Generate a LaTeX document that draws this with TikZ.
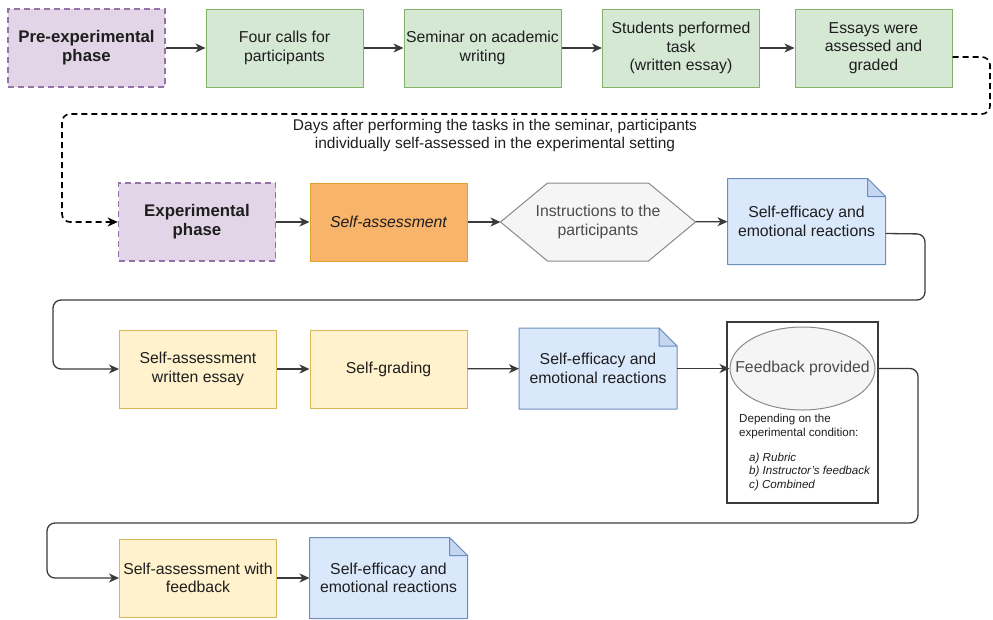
\documentclass[tikz,border=0pt]{standalone}
\usepackage{fontspec}
\setmainfont{Liberation Sans}
\usetikzlibrary{arrows.meta,backgrounds,shapes.geometric}
\definecolor{purplefill}{HTML}{E1D5E7}
\definecolor{purpleline}{HTML}{9673A6}
\definecolor{greenfill}{HTML}{D5E8D4}
\definecolor{greenline}{HTML}{82B366}
\definecolor{orangefill}{HTML}{F9B46C}
\definecolor{orangeline}{HTML}{E0A030}
\definecolor{yellowfill}{HTML}{FFF2CC}
\definecolor{yellowline}{HTML}{D6B656}
\definecolor{bluefill}{HTML}{DAE8FC}
\definecolor{blueline}{HTML}{6C8EBF}
\definecolor{bluefold}{HTML}{C4D6F0}
\definecolor{grayfill}{HTML}{F5F5F5}
\definecolor{grayline}{HTML}{8A8A8A}
\definecolor{txt}{HTML}{1E1E1E}
\definecolor{linecol}{HTML}{3A3A3A}
\tikzset{
  box/.style={rectangle, minimum width=157pt, minimum height=78pt, align=center,
    inner sep=0.5pt, line width=1pt, text=txt, font=\fontsize{15.8}{18.5}\selectfont},
  phase/.style={box, draw=purpleline, fill=purplefill, dash pattern=on 6pt off 4pt,
    line width=1.6pt, font=\fontsize{16.8}{19}\selectfont\bfseries},
  stage/.style={box, draw=greenline, fill=greenfill},
  selfbox/.style={box, draw=orangeline, fill=orangefill, font=\fontsize{15.8}{18.5}\selectfont\itshape},
  taskbox/.style={box, draw=yellowline, fill=yellowfill},
  docnode/.style={box, minimum height=80pt},
  hexnode/.style={box, minimum width=194pt, minimum height=77pt, text=txt!80},
  docedge/.style={draw=blueline, fill=bluefill, line width=1pt, line join=round},
  hexedge/.style={draw=grayline, fill=grayfill, line width=1pt},
  conn/.style={draw=linecol, line width=1.3pt, rounded corners=8pt,
    -{Stealth[length=10pt,width=9pt,inset=3pt]}},
  dashconn/.style={conn, draw=black, line width=1.6pt, dash pattern=on 6pt off 4pt}
}
\newcommand{\foldeddoc}[2]{%
  \filldraw[docedge] (#1.south west) -- (#1.south east) -- ([yshift=-#2]#1.north east)
    -- ([xshift=-#2]#1.north east) -- (#1.north west) -- cycle;
  \filldraw[docedge, fill=bluefold] ([xshift=-#2]#1.north east)
    -- ([xshift=-#2,yshift=-#2]#1.north east) -- ([yshift=-#2]#1.north east) -- cycle;}
\newcommand{\hexback}[2]{%
  \filldraw[hexedge] (#1.west) -- ([xshift=#2]#1.north west) -- ([xshift=-#2]#1.north east)
    -- (#1.east) -- ([xshift=-#2]#1.south east) -- ([xshift=#2]#1.south west) -- cycle;}
\begin{document}
\begin{tikzpicture}[x=1pt, y=-1pt]
  \useasboundingbox (0,0) rectangle (993,619);
  \node[phase] (pre) at (86.5,48) {Pre-experimental\\phase};
  \node[stage] (calls) at (284.5,48) {Four calls for\\participants};
  \node[stage] (seminar) at (482.5,48) {Seminar on academic\\writing};
  \node[stage] (task) at (681,48) {Students performed\\task\\(written essay)};
  \node[stage] (graded) at (873.5,48) {Essays were\\assessed and\\graded};
  \node[phase] (exper) at (197,222) {Experimental\\phase};
  \node[selfbox] (selfass) at (388.5,222) {Self-assessment};
  \node[hexnode] (instr) at (598,222) {Instructions to the\\participants};
  \node[docnode, minimum height=85pt] (effa) at (806.5,221.5) {Self-efficacy and\\emotional reactions};
  \node[taskbox] (essay) at (198,369) {Self-assessment\\written essay};
  \node[taskbox] (grading) at (388.5,369) {Self-grading};
  \node[docnode] (effb) at (598,368.5) {Self-efficacy and\\emotional reactions};
  \node[draw=linecol, line width=1.3pt, fill=white, minimum width=151pt, minimum height=181pt]
    (fb) at (802.5,412.5) {};
  \node[ellipse, draw=grayline, fill=grayfill, line width=1pt, minimum width=145pt,
    minimum height=83pt, inner xsep=-16pt, inner ysep=0pt, text=txt!80,
    font=\fontsize{15.8}{18.5}\selectfont] (fbell) at (802.5,368.5) {Feedback provided};
  \node[anchor=north west, align=left, inner sep=0pt, text=txt,
    font=\fontsize{11.6}{14}\selectfont] (fbnote) at (739,414)
    {Depending on the\\experimental condition:};
  \node[anchor=north west, align=left, inner sep=0pt, text=txt,
    font=\fontsize{11.6}{13.2}\selectfont\itshape] (fblist) at (749,453)
    {a) Rubric\\b) Instructor's feedback\\c) Combined};
  \node[taskbox] (safb) at (198,578) {Self-assessment with\\feedback};
  \node[docnode] (effc) at (388.5,578) {Self-efficacy and\\emotional reactions};
  \node[align=center, text=txt, font=\fontsize{15.5}{18}\selectfont] (days) at (495,135)
    {Days after performing the tasks in the seminar, participants\\individually self-assessed in the experimental setting};
  \begin{scope}[on background layer]
    \foldeddoc{effa}{18pt}
    \foldeddoc{effb}{18pt}
    \foldeddoc{effc}{18pt}
    \hexback{instr}{47pt}
  \end{scope}
  \begin{scope}[conn]
    \draw (pre) to (calls);
    \draw (calls) to (seminar);
    \draw (seminar) to (task);
    \draw (task) to (graded);
    \draw (exper) to (selfass);
    \draw (selfass) to (instr);
    \draw (instr) to (effa);
    \draw (essay) to (grading);
    \draw (grading) to (effb);
    \draw (effb) to (fbell);
    \draw (safb) to (effc);
    \draw ([yshift=-12pt]effa.east) -- (925,234) |- (53,300) |- (essay.west);
    \draw (fb.east |- fbell) -- (918,368.5) |- (47,523) |- (safb.west);
  \end{scope}
  \draw[dashconn] ([yshift=-9pt]graded.east) -- (990,57) |- (62,114) |- (exper.west);
\end{tikzpicture}
\end{document}
